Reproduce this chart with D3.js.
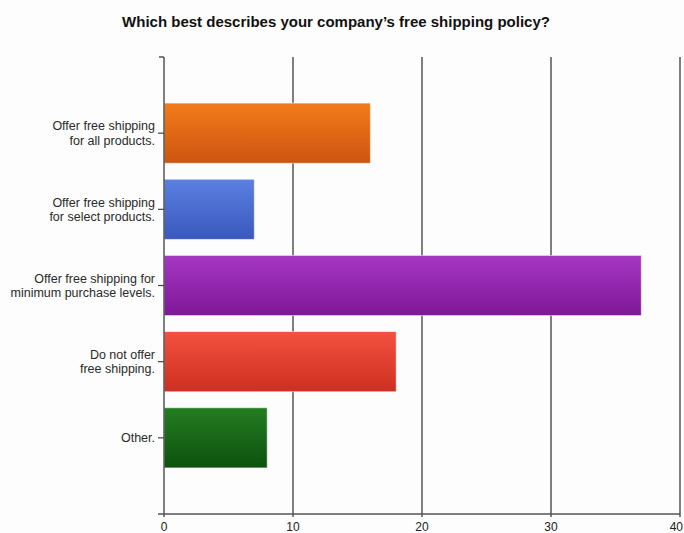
<!DOCTYPE html>
<html>
<head>
<meta charset="utf-8">
<script src="https://cdn.jsdelivr.net/npm/d3@7"></script>
<style>
  html, body { margin: 0; padding: 0; background: #fdfdfd; }
  svg { display: block; }
</style>
</head>
<body>
<svg id="chart" width="684" height="533"></svg>
<script>
// Survey responses: free shipping policy
const categories = [
  ["Offer free shipping", "for all products."],
  ["Offer free shipping", "for select products."],
  ["Offer free shipping for", "minimum purchase levels."],
  ["Do not offer", "free shipping."],
  ["Other."]
];
const values = [16, 7, 37, 18, 8];
const xTicks = [0, 10, 20, 30, 40];
const barTop = ["#f37b1a", "#5a80e2", "#a537c2", "#f45040", "#247d22"];
const barBottom = ["#cc5511", "#3a58bd", "#7f1798", "#cc3020", "#0d520d"];
const title = "Which best describes your company\u2019s free shipping policy?";

const svg = d3.select("#chart");
const margin = { left: 164, right: 4, top: 57, bottom: 19 };
const W = 684, H = 533;

const x = d3.scaleLinear().domain([0, 40]).range([margin.left, W - margin.right]);
const y = d3.scaleBand()
  .domain(d3.range(categories.length))
  .range([margin.top, H - margin.bottom])
  .paddingInner(0.21)
  .paddingOuter(0.605);

// Vertical gradients for each bar
const defs = svg.append("defs");
values.forEach((v, i) => {
  const g = defs.append("linearGradient")
    .attr("id", "grad" + i)
    .attr("x1", 0).attr("y1", 0).attr("x2", 0).attr("y2", 1);
  g.append("stop").attr("offset", "0%").attr("stop-color", barTop[i]);
  g.append("stop").attr("offset", "100%").attr("stop-color", barBottom[i]);
});

// Title
svg.append("text")
  .attr("x", 336).attr("y", 27)
  .attr("text-anchor", "middle")
  .attr("font-family", "Liberation Sans, Arial, sans-serif")
  .attr("font-size", 15)
  .attr("font-weight", "bold")
  .attr("fill", "#111")
  .text(title);

// Gridlines
svg.append("g")
  .selectAll("line")
  .data(xTicks.slice(1))
  .join("line")
  .attr("x1", d => x(d)).attr("x2", d => x(d))
  .attr("y1", margin.top).attr("y2", H - margin.bottom + 3)
  .attr("stroke", "#555").attr("stroke-width", 1.5);

// Bars
svg.append("g")
  .selectAll("rect")
  .data(values)
  .join("rect")
  .attr("x", x(0))
  .attr("y", (d, i) => y(i))
  .attr("width", d => x(d) - x(0))
  .attr("height", y.bandwidth())
  .attr("fill", (d, i) => `url(#grad${i})`)
  .attr("stroke", "rgba(255,255,255,0.55)")
  .attr("stroke-width", 1);

// Y axis
const yAxis = svg.append("g");
yAxis.append("line")
  .attr("x1", x(0)).attr("x2", x(0))
  .attr("y1", margin.top).attr("y2", H - margin.bottom + 3)
  .attr("stroke", "#555").attr("stroke-width", 1.5);
yAxis.append("line")
  .attr("x1", x(0) - 5).attr("x2", x(0))
  .attr("y1", margin.top).attr("y2", margin.top)
  .attr("stroke", "#555").attr("stroke-width", 1.5);

const yl = yAxis.selectAll("g.cat")
  .data(categories)
  .join("g")
  .attr("class", "cat")
  .attr("transform", (d, i) => `translate(0,${y(i) + y.bandwidth() / 2})`);
yl.append("line")
  .attr("x1", x(0) - 6).attr("x2", x(0))
  .attr("stroke", "#444").attr("stroke-width", 1.2);
yl.append("text")
  .attr("text-anchor", "end")
  .attr("font-family", "Liberation Sans, Arial, sans-serif")
  .attr("font-size", 12.5)
  .attr("fill", "#2a2a2a")
  .selectAll("tspan")
  .data(d => d.map((t, k) => ({ t, k, n: d.length })))
  .join("tspan")
  .attr("x", x(0) - 9)
  .attr("y", d => (d.k - (d.n - 1) / 2) * 14.5 + 4.5)
  .text(d => d.t);

// X axis
const xAxis = svg.append("g");
xAxis.append("line")
  .attr("x1", x(0) - 6).attr("x2", x(40))
  .attr("y1", H - margin.bottom).attr("y2", H - margin.bottom)
  .attr("stroke", "#555").attr("stroke-width", 1.5);
xAxis.selectAll("text")
  .data(xTicks)
  .join("text")
  .attr("x", d => d === 40 ? W - 1 : x(d))
  .attr("y", H - 2)
  .attr("text-anchor", d => d === 40 ? "end" : "middle")
  .attr("font-family", "Liberation Sans, Arial, sans-serif")
  .attr("font-size", 12)
  .attr("fill", "#222")
  .text(d => d);
</script>
</body>
</html>
